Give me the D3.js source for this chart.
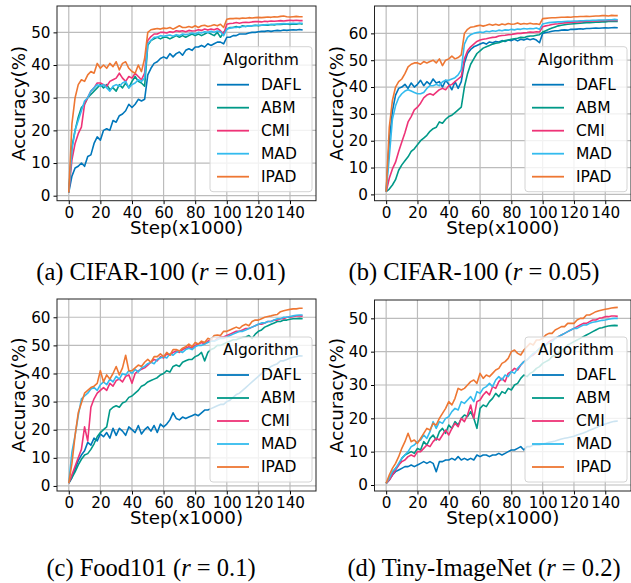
<!DOCTYPE html>
<html lang="en">
  <head>
    <meta charset="UTF-8">
    <title>Accuracy curves</title>
    <script src="https://cdn.jsdelivr.net/npm/d3@7"></script>
    <style>
      html, body { margin: 0; padding: 0; background: #fff; }
      svg { display: block; }
      .tick-label { font-family: 'DejaVu Sans', sans-serif; font-size: 15.2px; fill: #000; }
      .axis-label { font-family: 'DejaVu Sans', sans-serif; font-size: 18.3px; fill: #000; }
      .legend-text { font-family: 'DejaVu Sans', sans-serif; font-size: 15.5px; fill: #000; }
      .caption { font-family: 'Liberation Serif', serif; font-size: 24.5px; fill: #000; }
    </style>
  </head>
  <body>
    <script>
      // steps (x1000)
      const steps = [0,2,4,6,8,10,12,14,16,18,20,22,24,26,28,30,32,34,36,38,40,42,44,46,48,
        50,52,54,56,58,60,62,64,66,68,70,72,74,76,78,80,82,84,86,88,90,92,94,96,98,
        100,102,104,106,108,110,112,114,116,118,120,122,124,126,128,130,132,134,136,138,140,142,144,146,148];
      const algorithms = ["DAFL", "ABM", "CMI", "MAD", "IPAD"];
      const xTicks = [0, 20, 40, 60, 80, 100, 120, 140];
      const yTicksA = [0, 10, 20, 30, 40, 50];
      const yTicksB = [0, 10, 20, 30, 40, 50, 60];
      const yTicksC = [0, 10, 20, 30, 40, 50, 60];
      const yTicksD = [0, 10, 20, 30, 40, 50];

      // (a) CIFAR-100, r = 0.01
      const dafl_a = [1,6,8.5,9,10,9,12,12.5,16,18, 17,20,20.5,20,23,22.5,24.5,25,26,28, 27,28,29.5,29,29.5,37,39,40.5,41,42,
        42.5,42,43.5,42.5,43.5,44,43,44.5,45,44.5, 45.5,45.5,46,45.5,46.5,46,46.5,47,47,46.5, 48.5,48.5,49,49,49.5,49.5,49.5,49.8,50,50,
        50.2,50.3,50.3,50.5,50.3,50.5,50.6,50.5,50.7,50.6, 50.7,50.8,50.7,50.9,50.7];
      const abm_a = [1,15,20,24,27,28,30,31,32,33, 34,33,34,32.5,33,32,34,33,34.5,33, 35,36.5,35,34.5,33.5,46,47.5,48,48.5,48,
        48.5,48.5,48,48.5,49,48.5,49,48.5,49,49.5, 49,49.5,49,49.5,50,49.5,49,50,48.5,50, 51,51.5,51.5,51.8,51.5,52,51.8,52,52,52.2,
        52,52.2,52.3,52.2,52.4,52.3,52.5,52.4,52.5,52.6, 52.4,52.6,52.5,52.7,52.5];
      const cmi_a = [1,11,16,19,21,28,30,32,33,34.5, 34.5,34,33.5,35,35.5,36,37.5,36,35,36.5, 36,37.5,36.5,35.5,37.5,47.5,48.7,49.5,49.5,50,
        50,49.8,50.2,50,50.5,50.3,50.5,50.2,50.6,50.4, 50.5,50.8,50.6,51,50.7,51,50.8,51.2,50.5,49.5, 52.5,52.7,52.8,53,52.8,53,53.1,53,53.2,53.3,
        53.3,53.2,53.4,53.3,53.5,53.4,53.5,53.6,53.5,53.6, 53.7,53.6,53.7,53.6,53.6];
      const mad_a = [1,14,20,23,26,29,30,32,33,34, 33.5,34,33,32,33.5,34,33.5,34.5,35,33, 34,34.5,35.5,35,36,46.5,47.5,48.5,48.5,49,
        48.8,49,49.2,48.8,49.3,49,49.5,49.3,49.5,49.8, 49.5,50,49.8,50.2,50,50.3,50,50.4,50.2,49, 51,51.3,51.5,51.5,51.7,51.8,51.8,52,52,52.1,
        52.2,52.2,52.3,52.4,52.4,52.5,52.5,52.6,52.7,52.6, 52.7,52.8,52.7,52.8,52.8];
      const ipad_a = [1,22,30,34,35.5,35,37,38,37.5,40.5, 39,40,39,40.5,39.5,41,38.5,40.5,41,39, 38,37.5,40,38,42,50,50.8,51,51.2,51,
        51.3,51.2,51.5,51,51.5,52,51.5,51.5,51.8,51.5, 52,51.5,52,52.2,51.8,52,52.3,52,52.5,51.5, 54,54.2,54.2,54.3,54.2,54.4,54.3,54.5,54.4,54.5,
        54.6,54.5,54.6,54.7,54.6,54.8,54.7,54.9,55,54.8, 54.7,54.8,54.9,54.8,54.8];

      // (b) CIFAR-100, r = 0.05
      const dafl_b = [1,20,31,37,39.5,40,41,39.5,41.5,40, 41,42.5,40.5,42,41,43,41.5,42,40,42.5, 41,39,42,39.5,42,49,52.5,54,55,55.5,
        56,56.5,56,56.8,56.5,57,56.8,57.3,57,57.5, 57.3,57.8,57.2,57.8,57.5,58,57.6,58,57.5,56.5, 60,60.3,60.5,60.8,61,61,61.2,61.3,61.2,61.5,
        61.5,61.6,61.7,61.6,61.8,61.8,61.9,62,61.9,62, 62.1,62,62.1,62.2,62.1];
      const abm_b = [1,2,3.5,5.5,9,11,12.5,14,16,17, 18.5,20,21,22,23.5,24.5,25,27,26.5,28, 29,29.5,30.5,31.5,32.5,40,45,48.5,50.5,52.5,
        53.5,54.5,55,55.5,56,56.3,56.5,57,57.3,57.5, 57.8,58,58.2,58.5,58.4,58.8,59,59,59.3,59.5, 60.5,61,61.5,62,62.4,62.8,63,63.2,63.4,63.5,
        63.6,63.7,63.8,63.9,64,64,64.1,64.2,64.2,64.3, 64.3,64.4,64.4,64.5,64.4];
      const cmi_b = [1,6,9.5,12,16,19.5,23,27,29,31.5, 32.5,34,36,37,37.5,37,38,39,39.5,39, 40.5,41,42,43,44,50.5,53.5,55,56,57,
        57.5,57.8,58,58.3,58.5,58.6,59,59.2,59.3,59.5, 59.6,59.8,60,60,60.2,60.3,60.5,60.4,60.6,60.5, 62.5,62.8,63,63.3,63.5,63.6,63.8,63.9,64,64.1,
        64.2,64.3,64.3,64.4,64.5,64.5,64.6,64.6,64.7,64.7, 64.8,64.8,64.8,64.9,64.8];
      const mad_b = [1,14,28,33,36,37.5,38.5,39,38.5,38, 37.5,37.5,38,39.5,40.5,40.5,41,40.5,42,42.5, 42.5,43,43.5,44.5,46.5,56,58.5,59.5,60,60.3,
        60.5,60.3,60.8,60.6,61,60.8,61.2,61,61.3,61.2, 61.5,61.3,61.6,61.5,61.8,61.6,61.8,61.7,62,61.5, 63.5,63.8,64,64.1,64.2,64.3,64.3,64.4,64.5,64.5,
        64.6,64.6,64.7,64.7,64.8,64.8,64.9,64.9,65,65, 65,65.1,65.1,65.2,65.1];
      const ipad_b = [1,25,35,40,42,43,45,47.5,48.5,49, 49,48.5,49.5,49,49.5,50,49,50.5,48,50, 50.5,51.5,50.5,51,52,60,61.5,62.3,62.5,62.8,
        63,62.7,63,63.4,63,63.4,63,63.5,63.2,63.7, 63.4,63.5,63.9,63.4,63.7,63.5,63.8,63.5,63.6,63.3, 65.5,65.6,65.7,65.8,65.8,65.9,66,66,66.1,66,
        66.2,66.2,66.3,66.3,66.4,66.3,66.4,66.5,66.5,66.6, 66.6,66.5,66.7,66.6,66.6];

      // (c) Food101, r = 0.1
      const dafl_c = [1,3,6,9,11,12.5,15.5,14.5,17,16, 18.5,17.5,19,17,20.5,18,20.5,19.5,18,21, 20,19,21.5,18.5,20,21,19.5,21.5,19,22,
        21,22,23.5,26,24,23.5,24.5,24,24.5,25, 25.5,25,26,27,27,27.5,28,28.5,29,29, 30,30.5,31.5,32.5,33,34,35,36,37,38,
        39,40,41,41.5,42.5,43,43.5,44.5,44.5,45, 45.5,45.8,46,46.3,46.2];
      const abm_c = [1,3,5,7.5,9.5,11,11.5,13,15,17.5, 19,20,21,27,28,28.5,28,29.5,30,31.5, 32,33,34,35.5,36,37,37.5,38,38.5,39.5,
        40,41,40.5,42.5,43,42.5,44,44.5,45,45, 46,46.5,47.5,44.5,47.5,48.5,49,50,50,50.5, 51,51.5,52,52,52.5,52.8,53,53.5,52.5,54,
        55,55.5,56.5,57,57.5,58,58.5,58.5,59,59, 59.3,59.5,59.5,59.6,59.5];
      const cmi_c = [1,4,7,10,13,21,16,28,31,33, 34,35,34,36.5,35.5,37.5,38,37,39,39.5, 36.5,40,41,41.5,42,43,44,45,44.5,46,
        45.5,47,46.5,47.5,48,47.5,48.5,49,49.5,49, 50,50.5,51,50.5,51.5,52,51.5,52.5,53,53, 53.5,54,54.5,55,55,55.5,56,56,56.5,57,
        57.5,57.5,58,58.5,58.5,59,59,59.5,59.5,60, 60,60.3,60.5,60.5,60.4];
      const mad_c = [1,12,18,25,31,32,33,34.5,35,34, 36,37,36,38,37,39,38,40,39.5,41, 40,41.5,40.5,42,42.5,43.5,44,43.5,45,45.5,
        46,45.5,47,46.5,47.5,48,47.5,48.5,49,48.5, 49.5,50,50,50.5,51,51.5,51.5,52,52.5,52.5, 53,53.5,54,54.5,55,55,55.5,56,56.5,57,
        57.5,58,58,58.5,58.5,59,59.5,59.5,60,60, 60.3,60.5,60.7,60.8,60.8];
      const ipad_c = [1,8,18,26,29.5,33,34,35,35.5,36.5, 41,37,39.5,38,40,42.5,39.5,42,46.5,41, 41,42,43,42.5,44,45,44,46,46,47,
        46,47.5,46.5,48.5,48.5,48,49,49.5,50.5,49.5, 51,50.5,51.5,51,52.5,52,53.5,53.7,53.5,55, 55,55.5,56,56.5,56,57,57.5,57,58.5,59,
        59,59.5,60,60.3,60.5,60.8,61,62,62.3,62.6, 62.8,63,63,63.2,63.2];

      // (d) Tiny-ImageNet, r = 0.2
      const dafl_d = [0.5,1.5,3,4,4.5,5,5.5,5.5,6,5.5, 6,6.5,7,6.5,7,6.5,4,7,7,7.5, 7.5,8,7.5,8.5,7.5,8,7.5,8,7.5,9,
        8.5,9,9,8.5,9,9,9.5,9,9.5,10, 10.5,10.5,11,11.5,10.5,11.5,11.5,12,12,12, 12.3,12.5,12.8,13,13.2,13.5,13.8,14,14.2,14.4,
        14.6,15,15.3,15.6,16,16.4,16.8,17.2,17.6,18, 18.3,18.6,18.9,19.1,19.2];
      const abm_d = [0.5,2,3.5,5,6,8,9,9.5,10,9.5, 11,10.5,13,12,14,15,13.5,16,17,15.5, 18,17,19,18,20,21,20.5,22,20,17,
        23,24,23.5,25,26,27.5,26.5,28,27.5,29, 28.5,30,30.5,32,33,32.5,33.5,34,35,35.5, 36.5,37,37.5,38.5,39,39.5,40.5,41,42,42.5,
        43,43.5,44,44.5,45,45.5,46,46.5,47,47.2, 47.5,47.7,47.8,47.9,47.8];
      const cmi_d = [0.5,1.5,3,4.5,6,7,7.5,8.5,9,8.5, 10,10,11,12,11.5,13,14,13.5,15,16.5, 15,17,18.5,17.5,20,19,21,24,20,25,
        25.5,27,28,27,29.5,29,31,32,31,33.5, 34,35,34.5,36,37,37.5,38.5,39,40,41, 41.5,42,43,43.5,44,44.5,45,45.5,46,46.5,
        47,47.5,48,48.5,48.5,49,49.5,49.5,50,50.2, 50.5,50.5,50.7,50.7,50.6];
      const mad_d = [0.5,2,4,5,6.5,8,9,10,11.5,12, 13,13.5,15,14,16,19,17,19,18.5,20, 20.5,22,23,22.5,25,24.5,25.5,26.5,25,28,
        27.5,29,29.5,30.5,29.5,31.5,32.5,31.5,33,32.5, 34,33.5,35,36,37,37.5,38.5,39.5,40,41, 41.5,42,42.5,43,44,44.5,45,45.5,46,46.5,
        47,47,47.5,48,48,48.5,48.8,49,49.2,49.4, 49.5,49.7,49.9,50,50];
      const ipad_d = [0.5,3,5,6.5,8.5,11,13,15.5,13,13.5, 12.5,14,15.5,17,16.5,18.5,18,20,21.5,23, 25,24,26,29,28.5,29,30,31,31.5,30.5,
        33.5,32,33,32.5,33.5,34.5,35,36.5,37,38, 40,40.5,39.5,39,40.5,41.5,42.5,42,43.5,43.5, 44,45,45.5,45.5,46.5,47,47.5,47.5,48.5,48.5,
        48.5,49.5,50,50,51,51,51.5,52,52.3,52.5, 52.7,52.9,53.1,53.2,53.3];

      const colors = ["#0077bb", "#009988", "#ee3377", "#33bbee", "#ee7733"];

      const panels = [
        { frame: [57, 6, 316, 200.7], yDomain: [-1.53, 58.07], yTicks: yTicksA,
          series: [dafl_a, abm_a, cmi_a, mad_a, ipad_a], caption: ["(a) CIFAR-100 (", "r", " = 0.01)"], capX: 161, capY: 280 },
        { frame: [374.5, 6, 631, 200.7], yDomain: [-2.35, 70.2], yTicks: yTicksB,
          series: [dafl_b, abm_b, cmi_b, mad_b, ipad_b], caption: ["(b) CIFAR-100 (", "r", " = 0.05)"], capX: 474, capY: 280 },
        { frame: [57, 299, 316, 491], yDomain: [-1.8, 66.5], yTicks: yTicksC,
          series: [dafl_c, abm_c, cmi_c, mad_c, ipad_c], caption: ["(c) Food101 (", "r", " = 0.1)"], capX: 151, capY: 576 },
        { frame: [374.5, 300, 631, 491], yDomain: [-1.8, 55.5], yTicks: yTicksD,
          series: [dafl_d, abm_d, cmi_d, mad_d, ipad_d], caption: ["(d) Tiny-ImageNet (", "r", " = 0.2)"], capX: 484, capY: 576 }
      ];

      const svg = d3.select("body").append("svg")
        .attr("width", 631)
        .attr("height", 583);

      panels.forEach((p, pi) => {
        const [x0, y0, x1, y1] = p.frame;
        const x = d3.scaleLinear().domain([-7.45, 156.45]).range([x0, x1]);
        const y = d3.scaleLinear().domain(p.yDomain).range([y1, y0]);
        const g = svg.append("g");

        // grid
        g.append("g").selectAll("line").data(xTicks).enter().append("line")
          .attr("x1", d => x(d)).attr("x2", d => x(d))
          .attr("y1", y0).attr("y2", y1)
          .attr("stroke", "#bcbcbc").attr("stroke-width", 1.2);
        g.append("g").selectAll("line").data(p.yTicks).enter().append("line")
          .attr("y1", d => y(d)).attr("y2", d => y(d))
          .attr("x1", x0).attr("x2", x1)
          .attr("stroke", "#bcbcbc").attr("stroke-width", 1.2);

        // curves
        const clipId = "clip" + pi;
        svg.append("clipPath").attr("id", clipId).append("rect")
          .attr("x", x0).attr("y", y0).attr("width", x1 - x0).attr("height", y1 - y0);
        const line = d3.line().x((d, i) => x(steps[i])).y(d => y(d));
        g.append("g").attr("clip-path", `url(#${clipId})`)
          .selectAll("path").data(p.series).enter().append("path")
          .attr("d", line)
          .attr("fill", "none")
          .attr("stroke", (d, i) => colors[i])
          .attr("stroke-width", 1.6)
          .attr("stroke-linejoin", "round");

        // axes
        const xAxis = d3.axisBottom(x).tickValues(xTicks).tickSize(3.5).tickPadding(3);
        const yAxis = d3.axisLeft(y).tickValues(p.yTicks).tickSize(3.5).tickPadding(3);
        const gx = g.append("g").attr("transform", `translate(0,${y1})`).call(xAxis);
        const gy = g.append("g").attr("transform", `translate(${x0},0)`).call(yAxis);
        [gx, gy].forEach(a => {
          a.select(".domain").remove();
          a.selectAll("text").attr("class", "tick-label").attr("fill", null);
        });

        g.append("rect")
          .attr("x", x0).attr("y", y0).attr("width", x1 - x0).attr("height", y1 - y0)
          .attr("fill", "none").attr("stroke", "#222").attr("stroke-width", 1);

        g.append("text").attr("class", "axis-label")
          .attr("x", (x0 + x1) / 2).attr("y", y1 + 33)
          .attr("text-anchor", "middle").text("Step(x1000)");
        g.append("text").attr("class", "axis-label")
          .attr("transform", `translate(${x0 - 32},${(y0 + y1) / 2}) rotate(-90)`)
          .attr("text-anchor", "middle").text("Accuracy(%)");

        // legend
        const lw = 102, lh = 145;
        const lx = x1 - 4 - lw, ly = y1 - 9 - lh;
        const lg = g.append("g").attr("transform", `translate(${lx},${ly})`);
        lg.append("rect").attr("width", lw).attr("height", lh).attr("rx", 3)
          .attr("fill", "#fff").attr("fill-opacity", 0.8)
          .attr("stroke", "#d4d4d4").attr("stroke-width", 1);
        lg.append("text").attr("class", "legend-text")
          .attr("x", lw / 2).attr("y", 13).attr("dy", "0.35em")
          .attr("text-anchor", "middle").text("Algorithm");
        const rows = lg.selectAll(".row").data(algorithms).enter().append("g")
          .attr("transform", (d, i) => `translate(0,${38 + i * 23})`);
        rows.append("line").attr("x1", 7).attr("x2", 39)
          .attr("stroke", (d, i) => colors[i]).attr("stroke-width", 1.8);
        rows.append("text").attr("class", "legend-text")
          .attr("x", 51).attr("dy", "0.35em").text(d => d);

        // caption
        const cap = svg.append("text").attr("class", "caption")
          .attr("x", p.capX).attr("y", p.capY).attr("text-anchor", "middle");
        cap.append("tspan").text(p.caption[0]);
        cap.append("tspan").attr("font-style", "italic").text(p.caption[1]);
        cap.append("tspan").text(p.caption[2]);
      });
    </script>
  </body>
</html>
